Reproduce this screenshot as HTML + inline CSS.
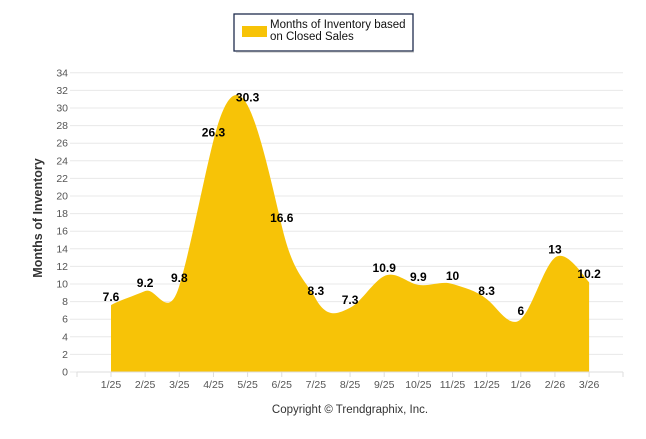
<!DOCTYPE html>
<html><head><meta charset="utf-8"><style>
body{margin:0;background:#fff;width:646px;height:434px;overflow:hidden;font-family:"Liberation Sans",sans-serif}
</style></head><body>
<svg id="s" width="646" height="434" xmlns="http://www.w3.org/2000/svg" font-family="Liberation Sans, sans-serif">
<rect x="234" y="14" width="179" height="37" fill="#fff" stroke="#1f2d4d" stroke-width="1.3"/>
<line x1="236" y1="52" x2="414" y2="52" stroke="#bbb" stroke-width="1"/>
<rect x="242" y="26" width="25" height="11" fill="#F7C307"/>
<text x="270" y="28" font-size="11.5" fill="#111">Months of Inventory based</text>
<text x="270" y="40" font-size="11.5" fill="#111">on Closed Sales</text>
<g id="grid"></g>
<path id="area" fill="#F7C307"/>
<g id="lbl" font-size="12" font-weight="bold" fill="#000" text-anchor="middle"></g>
<line x1="77" y1="372" x2="623" y2="372" stroke="#ddd"/>
<g id="xt" font-size="10.5" fill="#555" text-anchor="middle"></g>
<text transform="translate(42,218) rotate(-90)" font-size="12.5" font-weight="bold" fill="#333" text-anchor="middle">Months of Inventory</text>
<text x="350" y="413" font-size="11.5" fill="#333" text-anchor="middle">Copyright © Trendgraphix, Inc.</text>
</svg>
<script>
var NS="http://www.w3.org/2000/svg";
function el(t,a,p,txt){var e=document.createElementNS(NS,t);for(var k in a)e.setAttribute(k,a[k]);if(txt!=null)e.textContent=txt;document.getElementById(p).appendChild(e);return e;}
function Y(v){return 372-8.8*v;}
for(var v=0;v<=34;v+=2){var y=Y(v);el("line",{x1:70,x2:623,y1:y,y2:y,stroke:"#e8e8e8"},"grid");el("text",{x:68,y:y+3.5,"font-size":10.5,fill:"#555","text-anchor":"end"},"grid",v);}
var labs=["1/25","2/25","3/25","4/25","5/25","6/25","7/25","8/25","9/25","10/25","11/25","12/25","1/26","2/26","3/26"];
var vals=[7.6,9.2,9.8,26.3,30.3,16.6,8.3,7.3,10.9,9.9,10,8.3,6,13,10.2];
var step=34.15,P=[];
for(var i=0;i<15;i++){var x=111+i*step;P.push([x,Y(vals[i])]);
el("text",{x:x,y:388},"xt",labs[i]);
el("line",{x1:x,x2:x,y1:372,y2:377,stroke:"#ddd"},"grid");
el("text",{x:x,y:Y(vals[i])-4},"lbl",vals[i]);}
el("line",{x1:77,x2:77,y1:372,y2:377,stroke:"#ddd"},"grid");el("line",{x1:623,x2:623,y1:372,y2:377,stroke:"#ddd"},"grid");
var d="M"+P[0][0]+","+372+" L"+P[0][0]+","+P[0][1];
for(var i=0;i<14;i++){var p0=P[Math.max(0,i-1)],p1=P[i],p2=P[i+1],p3=P[Math.min(14,i+2)];var t=0.25;
d+=" C"+(p1[0]+(p2[0]-p0[0])*t/1.5)+","+(p1[1]+(p2[1]-p0[1])*t)+" "+(p2[0]-(p3[0]-p1[0])*t/1.5)+","+(p2[1]-(p3[1]-p1[1])*t)+" "+p2[0]+","+p2[1];}
d+=" L"+P[14][0]+",372 Z";
document.getElementById("area").setAttribute("d",d);
</script>
</body></html>
